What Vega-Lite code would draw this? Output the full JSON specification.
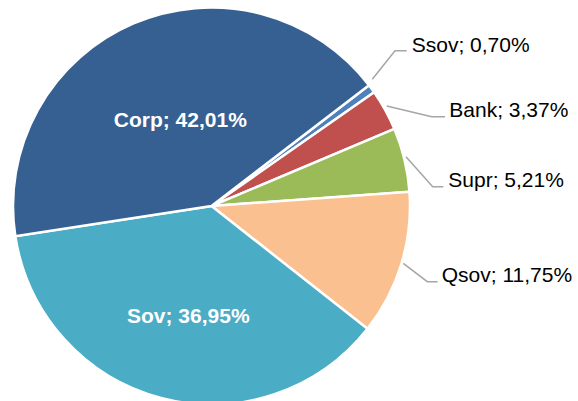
{
  "$schema": "https://vega.github.io/schema/vega-lite/v6.json",
  "width": 400,
  "height": 400,
  "autosize": {"type": "none"},
  "padding": {"left": 11.5, "top": 6, "right": 166.5, "bottom": 0},
  "background": "white",
  "config": {"view": {"stroke": null}, "font": "Liberation Sans"},
  "datasets": {
    "slices": [
      {"cat": "Ssov", "value": 0.70, "ord": 1},
      {"cat": "Bank", "value": 3.37, "ord": 2},
      {"cat": "Supr", "value": 5.21, "ord": 3},
      {"cat": "Qsov", "value": 11.75, "ord": 4},
      {"cat": "Sov", "value": 36.95, "ord": 5},
      {"cat": "Corp", "value": 42.01, "ord": 6}
    ],
    "leaders": [
      {"cat": "Ssov", "seq": 1, "px": 160.8, "py": 126.7},
      {"cat": "Ssov", "seq": 2, "px": 183.5, "py": 155.3},
      {"cat": "Ssov", "seq": 3, "px": 195.2, "py": 155.3},
      {"cat": "Bank", "seq": 1, "px": 175.2, "py": 100},
      {"cat": "Bank", "seq": 2, "px": 220.2, "py": 89.3},
      {"cat": "Bank", "seq": 3, "px": 233.5, "py": 89.3},
      {"cat": "Supr", "seq": 1, "px": 194.5, "py": 49.3},
      {"cat": "Supr", "seq": 2, "px": 221.2, "py": 19.3},
      {"cat": "Supr", "seq": 3, "px": 231.8, "py": 19.3},
      {"cat": "Qsov", "seq": 1, "px": 191.8, "py": -57.3},
      {"cat": "Qsov", "seq": 2, "px": 215.8, "py": -75.7},
      {"cat": "Qsov", "seq": 3, "px": 226.2, "py": -75.7}
    ],
    "labels": [
      {"cat": "Ssov", "label": "Ssov; 0,70%", "lx": 200.2, "ly": 154.3, "kind": "outer"},
      {"cat": "Bank", "label": "Bank; 3,37%", "lx": 237.8, "ly": 89.3, "kind": "outer"},
      {"cat": "Supr", "label": "Supr; 5,21%", "lx": 236.8, "ly": 19.3, "kind": "outer"},
      {"cat": "Qsov", "label": "Qsov; 11,75%", "lx": 230.2, "ly": -76.3, "kind": "outer"},
      {"cat": "Corp", "label": "Corp; 42,01%", "lx": -31.2, "ly": 78.7, "kind": "inner"},
      {"cat": "Sov", "label": "Sov; 36,95%", "lx": -23.2, "ly": -116.7, "kind": "inner"}
    ]
  },
  "layer": [
    {
      "data": {"name": "slices"},
      "mark": {"type": "arc", "outerRadius": 198.5, "stroke": "white", "strokeWidth": 2.5},
      "encoding": {
        "theta": {"field": "value", "type": "quantitative", "stack": true, "scale": {"range": [0.9163, 7.1995]}},
        "order": {"field": "ord", "type": "quantitative"},
        "color": {
          "field": "cat",
          "type": "nominal",
          "legend": null,
          "scale": {
            "domain": ["Corp", "Sov", "Qsov", "Supr", "Bank", "Ssov"],
            "range": ["#376092", "#4BACC6", "#FAC090", "#9BBB59", "#C0504D", "#4F81BD"]
          }
        }
      }
    },
    {
      "data": {"name": "leaders"},
      "mark": {"type": "line", "color": "#A6A6A6", "strokeWidth": 1.5, "clip": false},
      "encoding": {
        "x": {"field": "px", "type": "quantitative", "axis": null, "scale": {"domain": [-200, 200], "zero": false, "nice": false}},
        "y": {"field": "py", "type": "quantitative", "axis": null, "scale": {"domain": [-200, 200], "zero": false, "nice": false}},
        "detail": {"field": "cat"},
        "order": {"field": "seq", "type": "quantitative"}
      }
    },
    {
      "data": {"name": "labels"},
      "transform": [{"filter": "datum.kind === 'outer'"}],
      "mark": {"type": "text", "align": "left", "baseline": "alphabetic", "fontSize": 21, "color": "#000000", "clip": false},
      "encoding": {
        "x": {"field": "lx", "type": "quantitative"},
        "y": {"field": "ly", "type": "quantitative"},
        "text": {"field": "label"}
      }
    },
    {
      "data": {"name": "labels"},
      "transform": [{"filter": "datum.kind === 'inner'"}],
      "mark": {"type": "text", "align": "center", "baseline": "alphabetic", "fontSize": 21, "fontWeight": "bold", "color": "#FFFFFF"},
      "encoding": {
        "x": {"field": "lx", "type": "quantitative"},
        "y": {"field": "ly", "type": "quantitative"},
        "text": {"field": "label"}
      }
    }
  ]
}
